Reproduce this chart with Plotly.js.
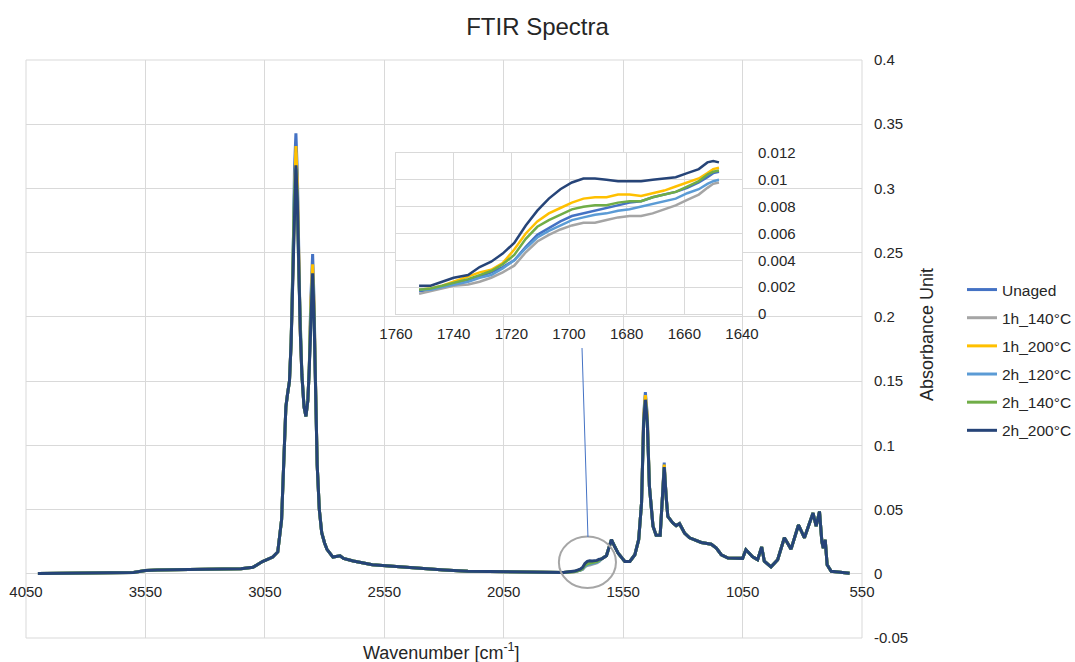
<!DOCTYPE html>
<html><head><meta charset="utf-8">
<script src="https://cdn.plot.ly/plotly-3.0.1.min.js"></script>
<style>html,body{margin:0;padding:0;background:#fff}#chart{width:1075px;height:662px}</style>
</head><body><div id="chart"></div>
<script>
// ---------- DATA ----------
const seriesNames = ['Unaged', '1h_140°C', '1h_200°C', '2h_120°C', '2h_140°C', '2h_200°C'];
const seriesColors = ['#4472C4', '#A5A5A5', '#FFC000', '#5B9BD5', '#70AD47', '#264478'];

// main spectrum wavenumbers (cm-1)
const wavenumber = [4000,3800,3600,3550,3500,3300,3150,3100,3060,3017,
  2996,2980,2971,2962,2955,2947,2940,2932,2926,2920,
  2914,2908,2902,2895,2886,2878,2870,2864,2858,2850,
  2844,2838,2831,2822,2812,2800,2790,2765,2735,2721,
  2680,2600,2500,2400,2300,2200,2050,1900,1800,1752,
  1740,1730,1720,1710,1700,1690,1680,1670,1660,1650,
  1641,1620,1599,1585,1571,1543,1522,1501,1485,1473,
  1464,1457,1449,1440,1425,1412,1395,1387,1378,1370,
  1363,1342,1328,1314,1293,1272,1223,1181,1160,1139,
  1111,1050,1036,1008,987,970,959,931,903,875,
  847,816,791,755,742,728,718,712,704,696,
  679,602];

const absUnaged = [0.0003,0.0005,0.001,0.0025,0.003,0.0035,0.004,0.005,0.0095,0.013,
  0.017,0.042,0.094,0.130,0.140,0.150,0.180,0.240,0.315,0.343,
  0.312,0.235,0.190,0.155,0.130,0.1225,0.135,0.160,0.212,0.249,
  0.212,0.150,0.085,0.050,0.032,0.024,0.019,0.013,0.014,0.012,
  0.010,0.007,0.0055,0.0045,0.003,0.002,0.0015,0.001,0.001,0.0017,
  0.0023,0.0028,0.0037,0.0060,0.0072,0.0078,0.0082,0.0087,0.0093,0.0105,
  0.0115,0.014,0.0265,0.021,0.016,0.0096,0.0096,0.0148,0.0265,0.055,
  0.124,0.1415,0.124,0.068,0.037,0.030,0.030,0.055,0.0865,0.060,
  0.0446,0.0395,0.0375,0.039,0.0317,0.028,0.0244,0.023,0.020,0.0148,
  0.0122,0.012,0.0187,0.0133,0.011,0.0208,0.0098,0.0054,0.011,0.028,
  0.0192,0.038,0.028,0.0473,0.037,0.0485,0.025,0.020,0.0265,0.007,
  0.002,0.0005];

const abs1h140 = [0.0003,0.0005,0.001,0.0025,0.003,0.0035,0.004,0.005,0.0095,0.013,
  0.017,0.042,0.094,0.130,0.140,0.150,0.180,0.240,0.305,0.328,
  0.300,0.235,0.190,0.155,0.130,0.1225,0.135,0.160,0.206,0.238,
  0.206,0.150,0.085,0.050,0.032,0.024,0.019,0.013,0.014,0.012,
  0.010,0.007,0.0055,0.0045,0.003,0.002,0.0015,0.001,0.001,0.0015,
  0.0021,0.0024,0.0033,0.0055,0.0065,0.0068,0.0073,0.0075,0.0084,0.0097,
  0.0115,0.014,0.0265,0.021,0.016,0.0096,0.0096,0.0148,0.0265,0.055,
  0.121,0.138,0.121,0.068,0.037,0.030,0.030,0.055,0.084,0.060,
  0.0446,0.0395,0.0375,0.039,0.0317,0.028,0.0244,0.023,0.020,0.0148,
  0.0122,0.012,0.0187,0.0133,0.011,0.0208,0.0098,0.0054,0.011,0.028,
  0.0192,0.038,0.028,0.0473,0.037,0.0485,0.025,0.020,0.0265,0.007,
  0.002,0.0005];

const abs1h200 = [0.0003,0.0005,0.001,0.0025,0.003,0.0035,0.004,0.005,0.0095,0.013,
  0.017,0.042,0.094,0.130,0.140,0.150,0.180,0.240,0.307,0.333,
  0.302,0.235,0.190,0.155,0.130,0.1225,0.135,0.160,0.207,0.241,
  0.207,0.150,0.085,0.050,0.032,0.024,0.019,0.013,0.014,0.012,
  0.010,0.007,0.0055,0.0045,0.003,0.002,0.0015,0.001,0.001,0.0018,
  0.0024,0.0031,0.0042,0.0071,0.0082,0.0087,0.0089,0.0090,0.0097,0.0108,
  0.0115,0.014,0.0265,0.021,0.016,0.0096,0.0096,0.0148,0.0265,0.055,
  0.122,0.139,0.122,0.068,0.037,0.030,0.030,0.055,0.085,0.060,
  0.0446,0.0395,0.0375,0.039,0.0317,0.028,0.0244,0.023,0.020,0.0148,
  0.0122,0.012,0.0187,0.0133,0.011,0.0208,0.0098,0.0054,0.011,0.028,
  0.0192,0.038,0.028,0.0473,0.037,0.0485,0.025,0.020,0.0265,0.007,
  0.002,0.0005];

const abs2h120 = [0.0003,0.0005,0.001,0.0025,0.003,0.0035,0.004,0.005,0.0095,0.013,
  0.017,0.042,0.094,0.130,0.140,0.150,0.180,0.240,0.297,0.316,
  0.291,0.235,0.190,0.155,0.130,0.1225,0.135,0.160,0.201,0.233,
  0.201,0.150,0.085,0.050,0.032,0.024,0.019,0.013,0.014,0.012,
  0.010,0.007,0.0055,0.0045,0.003,0.002,0.0015,0.001,0.001,0.0018,
  0.0022,0.0027,0.0036,0.0058,0.0069,0.0074,0.0078,0.0082,0.0089,0.0099,
  0.0115,0.014,0.0265,0.021,0.016,0.0096,0.0096,0.0148,0.0265,0.055,
  0.118,0.135,0.118,0.068,0.037,0.030,0.030,0.055,0.083,0.060,
  0.0446,0.0395,0.0375,0.039,0.0317,0.028,0.0244,0.023,0.020,0.0148,
  0.0122,0.012,0.0187,0.0133,0.011,0.0208,0.0098,0.0054,0.011,0.028,
  0.0192,0.038,0.028,0.0473,0.037,0.0485,0.025,0.020,0.0265,0.007,
  0.002,0.0005];

const abs2h140 = [0.0003,0.0005,0.001,0.0025,0.003,0.0035,0.004,0.005,0.0095,0.013,
  0.017,0.042,0.094,0.130,0.140,0.150,0.180,0.240,0.296,0.315,
  0.290,0.235,0.190,0.155,0.130,0.1225,0.135,0.160,0.200,0.232,
  0.200,0.150,0.085,0.050,0.032,0.024,0.019,0.013,0.014,0.012,
  0.010,0.007,0.0055,0.0045,0.003,0.002,0.0015,0.001,0.001,0.0018,
  0.0023,0.0029,0.0040,0.0066,0.0077,0.0081,0.0084,0.0087,0.0094,0.0106,
  0.0115,0.014,0.0265,0.021,0.016,0.0096,0.0096,0.0148,0.0265,0.055,
  0.118,0.135,0.118,0.068,0.037,0.030,0.030,0.055,0.0825,0.060,
  0.0446,0.0395,0.0375,0.039,0.0317,0.028,0.0244,0.023,0.020,0.0148,
  0.0122,0.012,0.0187,0.0133,0.011,0.0208,0.0098,0.0054,0.011,0.028,
  0.0192,0.038,0.028,0.0473,0.037,0.0485,0.025,0.020,0.0265,0.007,
  0.002,0.0005];

const abs2h200 = [0.0003,0.0005,0.001,0.0025,0.003,0.0035,0.004,0.005,0.0095,0.013,
  0.017,0.042,0.094,0.130,0.140,0.150,0.180,0.240,0.295,0.318,
  0.290,0.235,0.190,0.155,0.130,0.1225,0.135,0.160,0.200,0.234,
  0.200,0.150,0.085,0.050,0.032,0.024,0.019,0.013,0.014,0.012,
  0.010,0.007,0.0055,0.0045,0.003,0.002,0.0015,0.001,0.001,0.0021,
  0.0027,0.0036,0.0049,0.0080,0.0097,0.0101,0.0099,0.0100,0.0104,0.0114,
  0.0115,0.014,0.0265,0.021,0.016,0.0096,0.0096,0.0148,0.0265,0.055,
  0.118,0.1355,0.118,0.068,0.037,0.030,0.030,0.055,0.083,0.060,
  0.0446,0.0395,0.0375,0.039,0.0317,0.028,0.0244,0.023,0.020,0.0148,
  0.0122,0.012,0.0187,0.0133,0.011,0.0208,0.0098,0.0054,0.011,0.028,
  0.0192,0.038,0.028,0.0473,0.037,0.0485,0.025,0.020,0.0265,0.007,
  0.002,0.0005];

// inset (carbonyl region) wavenumbers and absorbances
const insetWavenumber = [1752,1748,1744,1740,1735,1731,1727,1723,1719,1715,1711,1707,1703,1699,
  1695,1691,1687,1683,1679,1675,1671,1667,1663,1659,1655,1652,1650,1648];
const insetUnaged = [0.0017,0.0018,0.0020,0.0023,0.0025,0.0028,0.0031,0.0035,0.0040,0.0050,0.0059,0.0064,0.0069,0.0073,
  0.0075,0.0077,0.0079,0.0081,0.0083,0.0084,0.0087,0.0089,0.0091,0.0094,0.0098,0.0102,0.0105,0.0106];
const inset1h140 = [0.0015,0.0017,0.0019,0.0021,0.0022,0.0024,0.0027,0.0031,0.0036,0.0046,0.0054,0.0059,0.0063,0.0066,
  0.0068,0.0068,0.0070,0.0072,0.0073,0.0073,0.0075,0.0078,0.0081,0.0085,0.0089,0.0094,0.0097,0.0098];
const inset1h200 = [0.0018,0.0019,0.0021,0.0024,0.0028,0.0031,0.0033,0.0038,0.0048,0.0060,0.0069,0.0075,0.0079,0.0083,
  0.0086,0.0087,0.0087,0.0089,0.0089,0.0088,0.0090,0.0092,0.0095,0.0098,0.0101,0.0105,0.0108,0.0109];
const inset2h120 = [0.0018,0.0018,0.0020,0.0022,0.0024,0.0027,0.0029,0.0034,0.0040,0.0049,0.0057,0.0062,0.0066,0.0070,
  0.0072,0.0074,0.0075,0.0077,0.0078,0.0080,0.0082,0.0084,0.0086,0.0090,0.0093,0.0097,0.0099,0.0100];
const inset2h140 = [0.0018,0.0019,0.0021,0.0023,0.0026,0.0029,0.0032,0.0037,0.0044,0.0056,0.0065,0.0070,0.0074,0.0078,
  0.0080,0.0081,0.0081,0.0083,0.0084,0.0084,0.0087,0.0089,0.0091,0.0095,0.0099,0.0104,0.0106,0.0107];
const inset2h200 = [0.0021,0.0021,0.0024,0.0027,0.0029,0.0035,0.0039,0.0045,0.0053,0.0066,0.0077,0.0086,0.0093,0.0098,
  0.0101,0.0101,0.0100,0.0099,0.0099,0.0099,0.0100,0.0101,0.0102,0.0105,0.0108,0.0113,0.0114,0.0113];

// ticks
const mainXTicks = [4050,3550,3050,2550,2050,1550,1050,550];
const mainXTickLabels = ['4050','3550','3050','2550','2050','1550','1050','550'];
const mainYTicks = [-0.05,0,0.05,0.1,0.15,0.2,0.25,0.3,0.35,0.4];
const mainYTickLabels = ['-0.05','0','0.05','0.1','0.15','0.2','0.25','0.3','0.35','0.4'];
const insetXTicks = [1760,1740,1720,1700,1680,1660,1640];
const insetXTickLabels = ['1760','1740','1720','1700','1680','1660','1640'];
const insetYTicks = [0,0.002,0.004,0.006,0.008,0.01,0.012];
const insetYTickLabels = ['0','0.002','0.004','0.006','0.008','0.01','0.012'];

// ---------- TRACES ----------
const mainSeries = [absUnaged, abs1h140, abs1h200, abs2h120, abs2h140, abs2h200];
const insetSeries = [insetUnaged, inset1h140, inset1h200, inset2h120, inset2h140, inset2h200];
const traces = [];
mainSeries.forEach((ys, i) => {
  traces.push({type:'scatter', mode:'lines', x: wavenumber, y: ys, name: seriesNames[i],
    legendgroup: 'g' + i, xaxis:'x', yaxis:'y',
    line:{color: seriesColors[i], width: 3}, hoverinfo:'skip'});
});
insetSeries.forEach((ys, i) => {
  traces.push({type:'scatter', mode:'lines', x: insetWavenumber, y: ys, name: seriesNames[i],
    legendgroup: 'g' + i, showlegend:false, xaxis:'x2', yaxis:'y2',
    line:{color: seriesColors[i], width: 2.5}, hoverinfo:'skip'});
});

const GRID = '#d9d9d9';
const FONT = 'Liberation Sans, Arial, Helvetica, sans-serif';
const TXT = '#262626';

const layout = {
  width:1075, height:662,
  margin:{l:26, r:213, t:60, b:24, pad:0, autoexpand:false},
  paper_bgcolor:'#ffffff', plot_bgcolor:'#ffffff',
  font:{family:FONT, size:15, color:TXT},
  showlegend:true,
  title:{text:'FTIR Spectra', x:0.5, xref:'container', xanchor:'center',
         y:1-27/662, yref:'container', yanchor:'middle', font:{size:24, color:TXT}},
  xaxis:{domain:[0,1], range:[4050,550], anchor:'free', position:0.05/0.45,
    tickmode:'array', tickvals:mainXTicks, ticktext:mainXTickLabels,
    showgrid:true, gridcolor:GRID, gridwidth:1, zeroline:false, showline:false,
    ticks:'', ticklabelstandoff:7, automargin:false, fixedrange:true},
  yaxis:{domain:[0,1], range:[-0.05,0.4], side:'right', anchor:'x',
    tickmode:'array', tickvals:mainYTicks, ticktext:mainYTickLabels,
    showgrid:true, gridcolor:GRID, gridwidth:1, zeroline:false, showline:false,
    ticks:'', ticklabelstandoff:11, automargin:false, fixedrange:true},
  xaxis2:{domain:[0.4426,0.8565], range:[1760,1640], anchor:'y2',
    tickmode:'array', tickvals:insetXTicks, ticktext:insetXTickLabels,
    showgrid:true, gridcolor:GRID, gridwidth:1, zeroline:false,
    showline:true, mirror:true, linecolor:GRID, linewidth:1,
    ticks:'', ticklabelstandoff:6, automargin:false, fixedrange:true},
  yaxis2:{domain:[0.5606,0.8391], range:[0,0.012], anchor:'x2', side:'right',
    tickmode:'array', tickvals:insetYTicks, ticktext:insetYTickLabels,
    showgrid:true, gridcolor:GRID, gridwidth:1, zeroline:false,
    showline:true, mirror:true, linecolor:GRID, linewidth:1,
    ticks:'', ticklabelstandoff:12, automargin:false, fixedrange:true},
  legend:{x:1.1196, y:0.6315, xanchor:'left', yanchor:'top', xref:'paper', yref:'paper',
    traceorder:'grouped', tracegroupgap:5, font:{size:15.5, color:TXT},
    bgcolor:'rgba(0,0,0,0)', borderwidth:0},
  shapes:[
    {type:'rect', xref:'paper', yref:'paper', x0:0, x1:1, y0:0, y1:1,
     line:{color:GRID, width:1}, fillcolor:'rgba(0,0,0,0)', layer:'below'},
    {type:'rect', xref:'x2 domain', yref:'y2 domain', x0:-0.046, x1:1.182, y0:-0.18, y1:1.062,
     line:{width:0}, fillcolor:'#ffffff', layer:'below'},
    {type:'circle', xref:'x', yref:'y', x0:1819, x1:1580, y0:-0.0111, y1:0.029,
     line:{color:'#a6a6a6', width:2}, fillcolor:'rgba(0,0,0,0)', layer:'above'},
    {type:'line', xref:'paper', yref:'paper', x0:0.6651, y0:0.5017, x1:0.6722, y1:0.1747,
     line:{color:'#4472C4', width:1}, layer:'above'}
  ],
  annotations:[
    {text:'Wavenumber [cm<sup>-1</sup>]', xref:'paper', yref:'paper', x:0.4976, y:-0.0225,
     xanchor:'center', yanchor:'middle', showarrow:false, font:{size:18, color:TXT}},
    {text:'Absorbance Unit', xref:'paper', yref:'paper', x:1.0778, y:0.5242, textangle:-90,
     xanchor:'center', yanchor:'middle', showarrow:false, font:{size:18, color:TXT}}
  ]
};

Plotly.newPlot('chart', traces, layout, {displayModeBar:false, staticPlot:true});
</script>
</body></html>
